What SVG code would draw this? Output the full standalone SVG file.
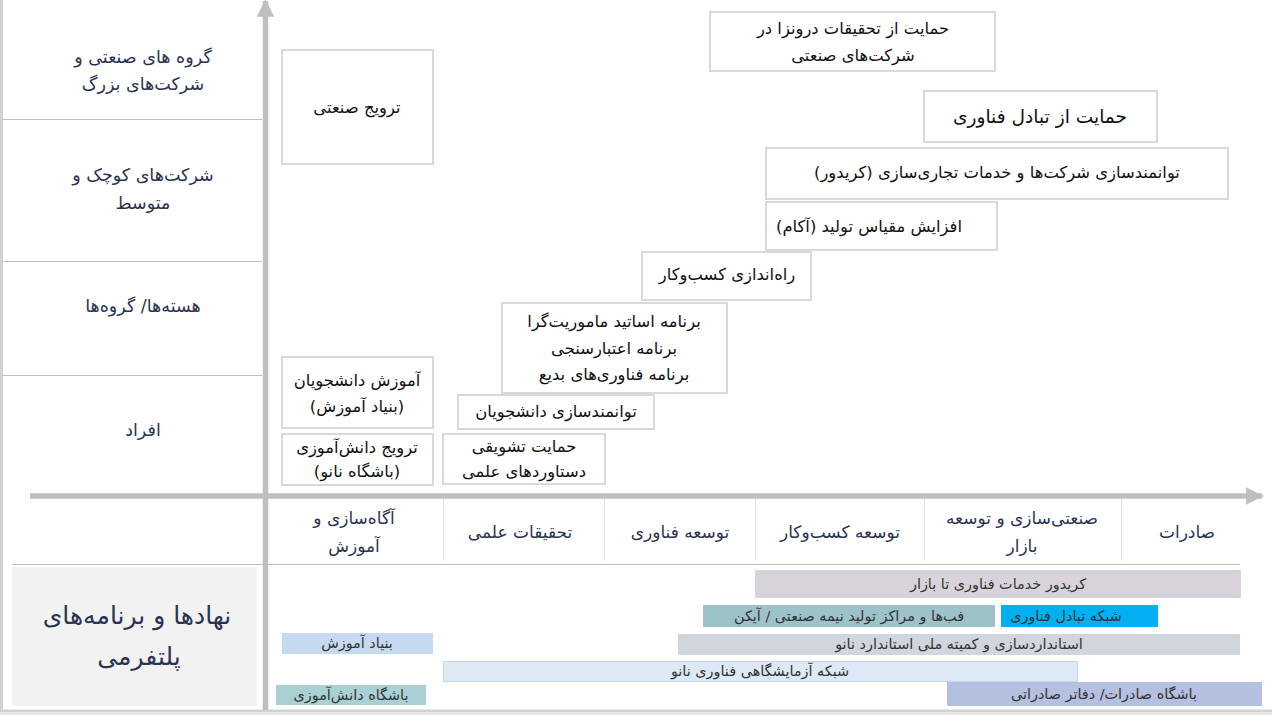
<svg xmlns="http://www.w3.org/2000/svg" width="1272" height="717" viewBox="0 0 1272 717">
<defs>
<style>
text{font-family:"DejaVu Sans","Noto Sans",sans-serif;direction:rtl;unicode-bidi:embed;text-anchor:middle;dominant-baseline:central}
.row{font-size:17.5px;fill:#2a3452}
.col{font-size:17px;fill:#2a3452}
.bt{font-size:16.4px;fill:#111}
.bar{font-size:14.4px;fill:#333}
.box{fill:#fff;stroke:#d9d9d9;stroke-width:2}
.sep{stroke:#bfbfbf;stroke-width:1.2}
.csep{stroke:#e3e3e3;stroke-width:1.2}
</style>
<marker id="ah" viewBox="0 0 10 10" refX="9" refY="5" markerWidth="3.4" markerHeight="3.2" orient="auto" markerUnits="strokeWidth"><path d="M0,0L10,5L0,10z" fill="#bfbfbf"/></marker>
</defs>
<rect x="0" y="0" width="1272" height="717" fill="#fff"/>
<rect x="1.5" y="-5" width="1290" height="716" fill="#fff" stroke="#d2d2d2" stroke-width="3"/>
<line x1="0" y1="713.5" x2="1272" y2="713.5" stroke="#e6e6e6" stroke-width="3"/>

<g id="rows">
<line class="sep" x1="3" y1="119.5" x2="262" y2="119.5"/>
<line class="sep" x1="3" y1="261.5" x2="262" y2="261.5"/>
<line class="sep" x1="3" y1="375.5" x2="262" y2="375.5"/>
<text class="row" x="143" y="57">گروه های صنعتی و</text>
<text class="row" x="143" y="84">شرکت&#x200C;های بزرگ</text>
<text class="row" x="143" y="175">شرکت&#x200C;های کوچک و</text>
<text class="row" x="143" y="203">متوسط</text>
<text class="row" x="143" y="306">هسته&#x200C;ها/ گروه&#x200C;ها</text>
<text class="row" x="143" y="430">افراد</text>
</g>

<g id="columns">
<line class="sep" x1="12" y1="564.5" x2="1240" y2="564.5"/>
<line class="csep" x1="443.5" y1="499" x2="443.5" y2="561"/>
<line class="csep" x1="604.5" y1="499" x2="604.5" y2="561"/>
<line class="csep" x1="755.5" y1="499" x2="755.5" y2="561"/>
<line class="csep" x1="924.5" y1="499" x2="924.5" y2="561"/>
<line class="csep" x1="1121.5" y1="499" x2="1121.5" y2="561"/>
<text class="col" x="354" y="518">آگاه&#x200C;سازی و</text>
<text class="col" x="354" y="546">آموزش</text>
<text class="col" x="520" y="532">تحقیقات علمی</text>
<text class="col" x="680" y="532">توسعه فناوری</text>
<text class="col" x="840" y="532">توسعه کسب&#x200C;وکار</text>
<text class="col" x="1022" y="518">صنعتی&#x200C;سازی و توسعه</text>
<text class="col" x="1022" y="546">بازار</text>
<text class="col" x="1187" y="532">صادرات</text>
</g>

<g id="panel">
<rect x="12" y="567" width="245" height="139" fill="#f2f2f2"/>
<text x="137" y="615" style="font-size:25px;fill:#2a3452">نهادها و برنامه&#x200C;های</text>
<text x="139" y="656" style="font-size:25px;fill:#2a3452">پلتفرمی</text>
</g>

<g id="connectors">
<line x1="265.5" y1="710" x2="265.5" y2="1" stroke="#bfbfbf" stroke-width="5.5" marker-end="url(#ah)"/>
<line x1="30" y1="496" x2="1262" y2="496" stroke="#bfbfbf" stroke-width="5.5" marker-end="url(#ah)"/>
</g>

<g id="n-tarvij-sanati"><rect class="box" x="282" y="50" width="151" height="114"/><text class="bt" x="357" y="107">ترویج صنعتی</text></g>
<g id="n-amoozesh"><rect class="box" x="282" y="357" width="151" height="71"/><text class="bt" x="357" y="380">آموزش دانشجویان</text><text class="bt" x="357" y="406">(بنیاد آموزش)</text></g>
<g id="n-daneshamoozi"><rect class="box" x="282" y="434" width="151" height="51"/><text class="bt" x="357" y="447">ترویج دانش&#x200C;آموزی</text><text class="bt" x="357" y="471">(باشگاه نانو)</text></g>
<g id="n-tashvighi"><rect class="box" x="443" y="434" width="162" height="50"/><text class="bt" x="524" y="446">حمایت تشویقی</text><text class="bt" x="524" y="471">دستاوردهای علمی</text></g>
<g id="n-daneshjooyan"><rect class="box" x="458" y="395" width="196" height="34"/><text class="bt" x="556" y="411">توانمندسازی دانشجویان</text></g>
<g id="n-barname"><rect class="box" x="502" y="303" width="225" height="90"/><text class="bt" x="614" y="321">برنامه اساتید ماموریت&#x200C;گرا</text><text class="bt" x="614" y="348">برنامه اعتبارسنجی</text><text class="bt" x="614" y="374">برنامه فناوری&#x200C;های بدیع</text></g>
<g id="n-rahandazi"><rect class="box" x="642" y="252" width="169" height="48"/><text class="bt" x="727" y="274">راه&#x200C;اندازی کسب&#x200C;وکار</text></g>
<g id="n-akam"><rect class="box" x="766" y="202" width="231" height="48"/><text class="bt" x="869" y="226">افزایش مقیاس تولید (آکام)</text></g>
<g id="n-koridor"><rect class="box" x="766" y="148" width="462" height="51"/><text class="bt" x="997" y="172">توانمندسازی شرکت&#x200C;ها و خدمات تجاری&#x200C;سازی (کریدور)</text></g>
<g id="n-tabadol"><rect class="box" x="924" y="91" width="233" height="51"/><text class="bt" x="1040" y="116" style="font-size:18.6px">حمایت از تبادل فناوری</text></g>
<g id="n-daroonza"><rect class="box" x="710" y="12" width="285" height="59"/><text class="bt" x="853" y="28">حمایت از تحقیقات درونزا در</text><text class="bt" x="853" y="55">شرکت&#x200C;های صنعتی</text></g>

<g id="bars">
<g id="b1"><rect x="755" y="570" width="486" height="28" fill="#d8d3da"/><text class="bar" x="998" y="584">کریدور خدمات فناوری تا بازار</text></g>
<g id="b2"><rect x="703" y="605" width="292" height="22" fill="#9dc3c8"/><text class="bar" x="849" y="616">فب&#x200C;ها و مراکز تولید نیمه صنعتی / آیکن</text></g>
<g id="b3"><rect x="1001" y="605" width="157" height="22" fill="#00b0f0"/><text class="bar" x="1066" y="616">شبکه تبادل فناوری</text></g>
<g id="b4"><rect x="678" y="634" width="562" height="21" fill="#d0d5de"/><text class="bar" x="959" y="644">استانداردسازی و کمیته ملی استاندارد نانو</text></g>
<g id="b5"><rect x="282" y="633" width="151" height="21" fill="#c5d9f1"/><text class="bar" x="357" y="643">بنیاد آموزش</text></g>
<g id="b6"><rect x="443.5" y="661.5" width="634" height="20" fill="#dee9f6" stroke="#c8d6e6"/><text class="bar" x="760" y="671">شبکه آزمایشگاهی فناوری نانو</text></g>
<g id="b7"><rect x="276" y="685" width="150" height="20" fill="#a9d0d3"/><text class="bar" x="351" y="695">باشگاه دانش&#x200C;آموزی</text></g>
<g id="b8"><rect x="947" y="682" width="315" height="24" fill="#b4c0e0"/><text class="bar" x="1104" y="694">باشگاه صادرات/ دفاتر صادراتی</text></g>
</g>
</svg>
